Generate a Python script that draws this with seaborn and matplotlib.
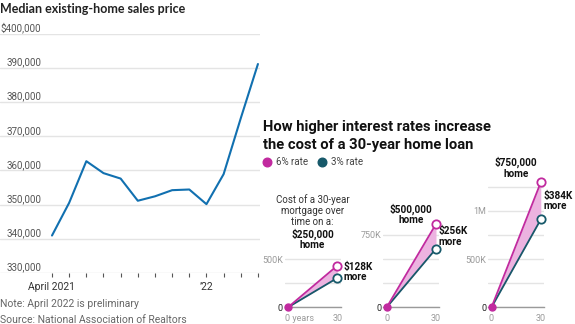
import matplotlib
matplotlib.use("Agg")
import matplotlib.pyplot as plt
import matplotlib.transforms as mtransforms
import seaborn as sns
import pandas as pd

# Median existing-home sales price, April 2021 - April 2022 (monthly)
months = ["Apr 2021", "May 2021", "Jun 2021", "Jul 2021", "Aug 2021", "Sep 2021",
          "Oct 2021", "Nov 2021", "Dec 2021", "Jan 2022", "Feb 2022", "Mar 2022", "Apr 2022"]
median_price = [340900, 350500, 362700, 359200, 357600, 351100,
                352400, 354200, 354400, 350100, 358900, 375300, 391200]
month_tick_labels = ["April 2021", "", "", "", "", "", "", "", "", "\u201922", "", "", ""]
price_ticks = [330000, 340000, 350000, 360000, 370000, 380000, 390000, 400000]
price_tick_labels = ["330,000", "340,000", "350,000", "360,000", "370,000",
                     "380,000", "390,000", "$400,000"]

# Total cost of a 30-year mortgage (20% down) at two rates
home_labels = ["$250,000\nhome", "$500,000\nhome", "$750,000\nhome"]
years = [0, 30]
cost_6pct = [431676, 863352, 1295028]
cost_3pct = [303556, 607112, 910668]
panel_ticks = [[0, 250000, 500000],
               [0, 250000, 500000, 750000],
               [0, 250000, 500000, 750000, 1000000, 1250000]]
panel_tick_labels = [["0", "", "500K"],
                     ["0", "", "", "750K"],
                     ["0", "", "500K", "", "1M", ""]]
rate_labels = ["6% rate", "3% rate"]

MAGENTA = "#c12a9f"
TEAL = "#17596a"
PINK = "#ecb3e0"
BLUE = "#1170b0"
GRID = "#e4e4e4"

sns.set_theme(style="white")
plt.rcParams["font.family"] = ["Roboto", "DejaVu Sans"]

W, H = 575, 324
fig = plt.figure(figsize=(W / 100, H / 100), dpi=100)


def px_axes(x0, y_top, x1, y_bottom):
    return fig.add_axes([x0 / W, 1 - y_bottom / H, (x1 - x0) / W, (y_bottom - y_top) / H])


def offset(trans, dx=0, dy=0):
    return trans + mtransforms.ScaledTranslation(dx / 100, dy / 100, fig.dpi_scale_trans)


# ---------------- left: median price line ----------------
ax = px_axes(0, 34, 260, 272.7)
price_df = pd.DataFrame({"idx": range(len(months)), "price": median_price})
sns.lineplot(data=price_df, x="idx", y="price", ax=ax, color=BLUE, lw=1.5)
ax.set_xlim(-3.03, 12.12)
ax.set_ylim(330000, 400000)
ax.set_xlabel("")
ax.set_ylabel("")
for s in ax.spines.values():
    s.set_visible(False)
ax.set_yticks(price_ticks)
ax.set_yticklabels([])
ax.yaxis.grid(True, color=GRID, lw=1)
ax.set_axisbelow(True)
ax.tick_params(axis="y", length=0)
ax.set_xticks(range(len(months)))
ax.set_xticklabels(month_tick_labels, fontsize=7.5, color="#333333")
ax.tick_params(axis="x", length=3, width=0.8, color="#555555", pad=4, bottom=True)
label_trans = offset(mtransforms.blended_transform_factory(ax.transAxes, ax.transData), dy=2.5)
for v, lab in zip(price_ticks, price_tick_labels):
    ax.text(41.5 / 260, v, lab, transform=label_trans, ha="right", va="baseline",
            fontsize=7.1, color="#555555")

fig.text(0, 1 - 9 / H, "Median existing-home sales price", fontsize=9, fontweight="bold",
         color="#222222", ha="left", va="center", family=["Lato", "DejaVu Sans"])
fig.text(0, 1 - 304 / H, "Note: April 2022 is preliminary", fontsize=7.5,
         color="#666666", ha="left", va="center")
fig.text(0, 1 - 320 / H, "Source: National Association of Realtors", fontsize=7.5,
         color="#666666", ha="left", va="center")

# ---------------- right: mortgage cost panels ----------------
fig.text(263 / W, 1 - 127 / H, "How higher interest rates increase", fontsize=10.6,
         fontweight="bold", color="#111111", ha="left", va="center")
fig.text(263 / W, 1 - 145 / H, "the cost of a 30-year home loan", fontsize=10.6,
         fontweight="bold", color="#111111", ha="left", va="center")

legend_colors = [MAGENTA, TEAL]
legend_x = [266.7, 321.7]
for lx, c, lab in zip(legend_x, legend_colors, rate_labels):
    fig.lines.append(plt.Line2D([lx / W], [1 - 162.3 / H], marker="o", markersize=6.2,
                                color=c, transform=fig.transFigure))
    fig.text((lx + 9) / W, 1 - 162.3 / H, lab, fontsize=7, color="#444444",
             ha="left", va="center")

zero_px = [288.0, 386.7, 491.5]
px_per_year = 1.643
px_per_k = 0.0965
y_base = 307.3
ymax = 1400000
more_dx = [33.6, 31.8, 31.4]
home_y = [705000, 964000, 1443000]

for i in range(3):
    left = zero_px[i] + -2 * px_per_year
    right = zero_px[i] + 32 * px_per_year
    top = y_base - ymax / 1000 * px_per_k
    pax = px_axes(left, top, right, y_base)
    df = pd.DataFrame({"year": years * 2,
                       "cost": [0, cost_6pct[i], 0, cost_3pct[i]],
                       "rate": [rate_labels[0]] * 2 + [rate_labels[1]] * 2})
    pax.fill_between(years, [0, cost_3pct[i]], [0, cost_6pct[i]], color=PINK, lw=0, zorder=1)
    sns.lineplot(data=df, x="year", y="cost", hue="rate", hue_order=rate_labels[::-1],
                 palette={rate_labels[0]: MAGENTA, rate_labels[1]: TEAL},
                 ax=pax, lw=1.3, legend=False, zorder=3)
    pax.plot([30], [cost_3pct[i]], marker="o", ms=6, mfc="white", mec=TEAL, mew=1.3,
             zorder=4, clip_on=False)
    pax.plot([30], [cost_6pct[i]], marker="o", ms=6, mfc="white", mec=MAGENTA, mew=1.3,
             zorder=4, clip_on=False)
    pax.plot([0], [0], marker="o", ms=5, color=MAGENTA, zorder=5, clip_on=False)

    pax.set_xlim(-2, 32)
    pax.set_ylim(0, ymax)
    pax.set_xlabel("")
    pax.set_ylabel("")
    for s in pax.spines.values():
        s.set_visible(False)
    pax.spines["bottom"].set_visible(True)
    pax.spines["bottom"].set_color("#9a9a9a")
    pax.spines["bottom"].set_linewidth(1)
    pax.set_yticks(panel_ticks[i])
    pax.set_yticklabels(panel_tick_labels[i], fontsize=6.5)
    for t, lab in zip(pax.get_yticklabels(), panel_tick_labels[i]):
        t.set_color("#222222" if lab == "0" else "#9a9a9a")
    pax.yaxis.grid(True, color=GRID, lw=1)
    pax.set_axisbelow(True)
    pax.tick_params(axis="y", length=0, pad=1.2)
    pax.set_xticks(years)
    pax.set_xticklabels(["0 years" if i == 0 else "0", "30"], fontsize=6.5, color="#9a9a9a")
    pax.tick_params(axis="x", length=0, pad=4.5)
    if i == 0:
        t0 = pax.get_xticklabels()[0]
        t0.set_ha("left")
        t0.set_transform(offset(t0.get_transform(), dx=-3))

    pax.text(15, home_y[i], home_labels[i], fontsize=7.2, fontweight="bold",
             color="#111111", ha="center", va="center", linespacing=1.1, clip_on=False)
    diff_k = round((cost_6pct[i] - cost_3pct[i]) / 1000)
    pax.text(more_dx[i], (cost_6pct[i] + cost_3pct[i]) / 2, f"${diff_k}K\nmore",
             fontsize=7.2, fontweight="bold", color="#111111", ha="left", va="center",
             linespacing=1.1, clip_on=False)
    if i == 0:
        pax.text(15, 1000000, "Cost of a 30-year\nmortgage over\ntime on a:", fontsize=7,
                 color="#333333", ha="center", va="center", linespacing=1.15, clip_on=False)

fig.savefig("out.png", dpi=100)
